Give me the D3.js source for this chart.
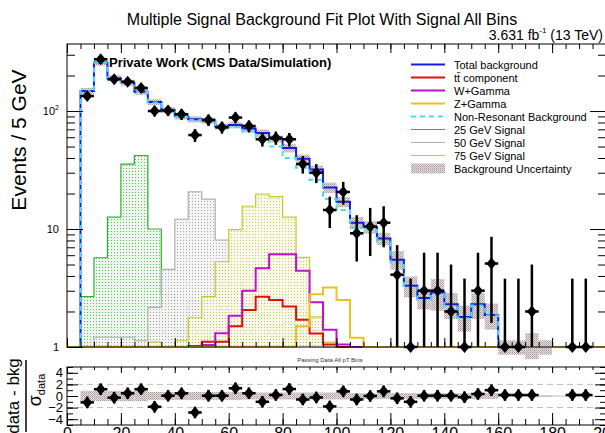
<!DOCTYPE html>
<html>
<head>
<meta charset="UTF-8">
<title>Signal Background Fit</title>
<style>
  body { margin: 0; background: #fff; }
  svg text { font-family: "Liberation Sans", Arial, Helvetica, sans-serif; }
</style>
<script src="https://d3js.org/d3.v7.min.js"></script>
</head>
<body>
<script>
// ---- datos (bins de 5 GeV, de 0 a 200) ----
var binLow = d3.range(0, 200, 5);

var dataVals = [null,134,275,186,177,157,100,101,94,62.6,84,72.8,88,74.6,57.6,59.4,57.6,35.5,30,14.5,
                20.6,9.2,10.5,11.3,4.1,0,3,3,2,0,3,5.1,0,0,2,null,null,0,0,null];
var dataErr  = [0,11.6,16.6,13.6,13.3,12.5,10,10,9.7,7.9,9.2,8.5,9.4,8.6,7.6,7.7,7.6,6,5.5,4.3,
                4.5,3.9,4.6,4.3,3.2,3.8,3.3,3.3,3,3.8,3.3,3.5,3.8,3.8,3,0,0,3.8,3.8,0];

var totalBkg = [0,148,258,190,174,146,119,102,90,85,83,74,76,71,65,58,48.5,39.5,32,22.5,
                17,11.3,10.4,8.3,5.5,3.3,2.6,2.9,2.3,1.8,2.3,1.87,1,1,1.05,1,0,0,0,0];
var bkgUncFrac = [0,0.06,0.06,0.06,0.06,0.06,0.06,0.06,0.06,0.06,0.06,0.06,0.06,0.07,0.07,0.07,0.08,0.08,0.08,0.1,
                0.1,0.12,0.12,0.12,0.18,0.2,0.2,0.3,0.25,0.25,0.25,0.25,0.14,0.14,0.25,0.14,0,0,0,0];
var nonRes   = [0,147,256,189,173,145,118,101,89,84,82,72,73,67,58,50,40,33,26,18,
                14.5,10.3,9.8,7.8,5.2,3.2,2.5,2.8,2.2,1.75,2.25,1.85,1,1,1,1,0,0,0,0];
var ttbar    = [0,0,0,0,0,0,0,0,0,1.02,1.11,1.11,1.5,2.06,2.67,2.5,2.2,1.7,1.3,1.05,
                0,0,0,0,0,0,0,0,0,0,0,0,0,0,0,0,0,0,0,0];
var wGamma   = [0,0,0,0,0,0,0,0,0,0,1.04,1.31,1.84,3.0,4.64,6.1,6.1,4.43,2.4,1.4,
                1.05,0,0,0,0,0,0,0,0,0,0,0,0,0,0,0,0,0,0,0];
var zGamma   = [0,0,0,0,0,0,0,0,0,0,0,0,0,0,0,0,0,1.5,2.8,3.2,
                2.5,1.2,0,0,0,0,0,0,0,0,0,0,0,0,0,0,0,0,0,0];
var sig25    = [0,2.67,5.71,12.6,35.5,42,10,2.8,1.39,2.45,1.42,1.97,2.03,1.67,1.9,1.5,1.6,1.3,1.1,0,
                0,0,0,0,0,0,0,0,0,0,0,0,0,0,0,0,0,0,0,0];
var sig50    = [0,0,1.21,1.21,1.21,1.13,2.17,4.55,12.1,20.7,17.9,8.07,3.46,2.3,1.8,1.5,1.4,1.2,0,0,
                0,0,0,0,0,0,0,0,0,0,0,0,0,0,0,0,0,0,0,0];
var sig75    = [0,0,0,0,0,0,1.1,0,1.13,1.77,2.67,5.28,9.9,15.6,19.8,18.8,12.6,5.75,1.8,1.1,
                0,0,0,0,0,0,0,0,0,0,0,0,0,0,0,0,0,0,0,0];

var pulls    = [null,-1.1,1.17,-0.29,0.46,1.17,-1.86,0.05,0.46,-2.84,0.05,0.05,1.33,0.48,-1.0,0.18,1.2,-0.6,-0.25,-1.8,
                0.8,-0.6,0,0.8,-0.4,-1.0,0.05,0.05,0.05,-0.2,0.35,1.0,0.17,0.17,0.17,null,null,0.17,0.17,null];
var pullBand = [0,0.9,0.9,0.9,0.9,0.9,0.7,0.7,0.7,0.7,0.7,0.7,0.7,0.6,0.6,0.6,0.6,0.6,0.6,0.6,
                0.6,0.5,0.5,0.5,0.5,0.5,0.5,0.5,0.5,0.5,0.5,0.5,0.15,0.15,0.15,0.15,0.1,0.1,0.1,0.1];

var legendItems = [
  {name: "Total background", color: "#1a1ae6", w: 2},
  {name: "t\u0074\u0304 component", color: "#e01010", w: 2},
  {name: "W+Gamma", color: "#c010d0", w: 2},
  {name: "Z+Gamma", color: "#f0c020", w: 2},
  {name: "Non-Resonant Background", color: "#40e0f0", w: 2, dash: "5,4"},
  {name: "25 GeV Signal", color: "#30b030", w: 1},
  {name: "50 GeV Signal", color: "#b0b0b0", w: 1},
  {name: "75 GeV Signal", color: "#c8c830", w: 1},
  {name: "Background Uncertainty", band: true}
];

// ---- tamaño y escalas ----
var W = 605, H = 433;
var svg = d3.select("body").append("svg").attr("width", W).attr("height", H);
var defs = svg.append("defs");

var x = d3.scaleLinear().domain([0, 200]).range([67, 606]);
var y = d3.scaleLog().domain([1, 370]).range([347, 44]);
var yr = d3.scaleLinear().domain([-5, 5]).range([425, 367]);

function yc(v) { return y(Math.max(v, 1)); }

// patrones de puntos estilo ROOT
function dotPattern(id, bg, dot, size) {
  var p = defs.append("pattern").attr("id", id).attr("patternUnits", "userSpaceOnUse")
    .attr("width", size).attr("height", size);
  p.append("rect").attr("width", size).attr("height", size).attr("fill", bg);
  p.append("rect").attr("width", 1).attr("height", 1).attr("fill", dot);
}
dotPattern("pGreen", "#eaf5ea", "#50b050", 3);
dotPattern("pGray", "#f3f3f3", "#a0a0a0", 3);
dotPattern("pOlive", "#f8f8e4", "#c0c060", 3);
var pb = defs.append("pattern").attr("id", "pBand").attr("patternUnits", "userSpaceOnUse")
  .attr("width", 2).attr("height", 2);
pb.append("rect").attr("width", 2).attr("height", 2).attr("fill", "#e6dede");
pb.append("rect").attr("width", 1).attr("height", 1).attr("fill", "#a89a9a");
pb.append("rect").attr("x", 1).attr("y", 1).attr("width", 1).attr("height", 1).attr("fill", "#bfb3b3");

// puntos de un histograma en escalones
function stepPoints(vals, i0, i1) {
  var pts = [];
  for (var i = i0; i <= i1; i++) {
    pts.push([binLow[i], vals[i]]);
    pts.push([binLow[i] + 5, vals[i]]);
  }
  return pts;
}
var line = d3.line().x(function(d) { return x(d[0]); }).y(function(d) { return yc(d[1]); });
var area = d3.area().x(function(d) { return x(d[0]); }).y0(y(1)).y1(function(d) { return yc(d[1]); });

var main = svg.append("g");

// señales
[[sig25, "pGreen", "#30b030"], [sig50, "pGray", "#b0b0b0"], [sig75, "pOlive", "#c8c830"]].forEach(function(s) {
  var pts = stepPoints(s[0], 0, 39);
  main.append("path").attr("d", area(pts)).attr("fill", "url(#" + s[1] + ")").attr("fill-opacity", 0.9);
  main.append("path").attr("d", line(pts)).attr("fill", "none").attr("stroke", s[2]).attr("stroke-width", 1.2);
});

// componentes
[[ttbar, "#e01010"], [wGamma, "#c010d0"], [zGamma, "#f0c020"]].forEach(function(s) {
  main.append("path").attr("d", line(stepPoints(s[0], 0, 39))).attr("fill", "none")
    .attr("stroke", s[1]).attr("stroke-width", 2);
});

// banda de incertidumbre
for (var i = 1; i < 40; i++) {
  if (!totalBkg[i]) continue;
  var lo = totalBkg[i] * (1 - bkgUncFrac[i]), hi = totalBkg[i] * (1 + bkgUncFrac[i]);
  main.append("rect").attr("x", x(binLow[i])).attr("width", x(binLow[i] + 5) - x(binLow[i]))
    .attr("y", y(hi)).attr("height", y(lo) - y(hi)).attr("fill", "url(#pBand)");
}

// fondo total y no resonante
var totPts = [[5, 1]].concat(stepPoints(totalBkg, 1, 31)).concat([[160, 1]]);
main.append("path").attr("d", line(totPts)).attr("fill", "none").attr("stroke", "#1a1ae6").attr("stroke-width", 2);
var nrPts = [[5, 1]].concat(stepPoints(nonRes, 1, 31)).concat([[160, 1]]);
main.append("path").attr("d", line(nrPts)).attr("fill", "none").attr("stroke", "#40e0f0")
  .attr("stroke-width", 2).attr("stroke-dasharray", "5,4");

// datos
function marker(g, cx, cy, r) {
  g.append("path").attr("d", "M" + cx + "," + (cy - r - 1) + "L" + (cx + r) + "," + cy + "L" + cx + "," + (cy + r + 1) +
    "L" + (cx - r) + "," + cy + "Z").attr("fill", "#000");
}
var dataG = svg.append("g");
for (var i = 0; i < 40; i++) {
  var v = dataVals[i];
  if (v === null) continue;
  var cx = x(binLow[i] + 2.5), cy = yc(v);
  var yTop = y(v + dataErr[i]);
  var yBot = (v - dataErr[i]) > 1 ? y(v - dataErr[i]) : y(1);
  dataG.append("line").attr("x1", cx).attr("x2", cx).attr("y1", yTop).attr("y2", yBot)
    .attr("stroke", "#000").attr("stroke-width", 2.5);
  dataG.append("line").attr("x1", x(binLow[i])).attr("x2", x(binLow[i] + 5)).attr("y1", cy).attr("y2", cy)
    .attr("stroke", "#000").attr("stroke-width", 2.5);
  marker(dataG, cx, cy, 5);
}

// ejes del panel principal (marcas hacia dentro)
function ticks(axis, tx, ty, vals, size) {
  var g = svg.append("g").attr("transform", "translate(" + tx + "," + ty + ")")
    .call(axis.tickValues(vals).tickSize(size).tickFormat(""));
  g.select(".domain").remove();
  g.selectAll("line").attr("stroke", "#000");
  return g;
}
var majX = d3.range(0, 201, 20), minX = d3.range(0, 201, 5);
ticks(d3.axisBottom(x), 0, 347, majX, -9);
ticks(d3.axisBottom(x), 0, 347, minX, -5);
ticks(d3.axisTop(x), 0, 44, majX, -9);
ticks(d3.axisTop(x), 0, 44, minX, -5);
var minY = [2,3,4,5,6,7,8,9,20,30,40,50,60,70,80,90,200,300];
ticks(d3.axisLeft(y), 67, 0, [1, 10, 100], -16);
ticks(d3.axisLeft(y), 67, 0, minY, -8);
ticks(d3.axisRight(y), 606, 0, [10, 100], -16);
ticks(d3.axisRight(y), 606, 0, minY, -8);

var yl = svg.append("g").attr("font-size", 11).attr("text-anchor", "end");
yl.append("text").attr("x", 59).attr("y", y(1) + 4).text("1");
yl.append("text").attr("x", 59).attr("y", y(10) + 4).text("10");
var t2 = yl.append("text").attr("x", 59).attr("y", y(100) + 4);
t2.append("tspan").text("10");
t2.append("tspan").attr("dy", -5).attr("font-size", 7).text("2");

svg.append("rect").attr("x", 67).attr("y", 44).attr("width", 539).attr("height", 303)
  .attr("fill", "none").attr("stroke", "#000");

// leyenda
var leg = svg.append("g");
legendItems.forEach(function(d, k) {
  var ly = 64.5 + k * 13;
  if (d.band) {
    leg.append("rect").attr("x", 411).attr("y", ly - 5).attr("width", 34).attr("height", 10).attr("fill", "url(#pBand)");
  } else {
    leg.append("line").attr("x1", 411).attr("x2", 445).attr("y1", ly).attr("y2", ly)
      .attr("stroke", d.color).attr("stroke-width", d.w).attr("stroke-dasharray", d.dash || null);
  }
  leg.append("text").attr("x", 454).attr("y", ly + 4).attr("font-size", 11).text(d.name);
});

svg.append("text").attr("x", 109).attr("y", 67).attr("font-size", 13).attr("font-weight", "bold")
  .text("Private Work (CMS Data/Simulation)");

// títulos
svg.append("text").attr("x", 322).attr("y", 24.5).attr("text-anchor", "middle").attr("font-size", 16)
  .text("Multiple Signal Background Fit Plot With Signal All Bins");
var lumi = svg.append("text").attr("x", 603).attr("y", 40).attr("text-anchor", "end").attr("font-size", 14);
lumi.append("tspan").text("3.631 fb");
lumi.append("tspan").attr("dy", -7).attr("font-size", 8).text("-1");
lumi.append("tspan").attr("dy", 7).text(" (13 TeV)");

svg.append("text").attr("transform", "translate(26,140) rotate(-90)").attr("text-anchor", "middle")
  .attr("font-size", 21).text("Events / 5 GeV");

// ---- panel de pulls ----
var rp = svg.append("g");
[-2, 2].forEach(function(v) {
  rp.append("line").attr("x1", 67).attr("x2", 606).attr("y1", yr(v)).attr("y2", yr(v))
    .attr("stroke", "#bbb").attr("stroke-dasharray", "6,4");
});
for (var i = 1; i < 40; i++) {
  rp.append("rect").attr("x", x(binLow[i])).attr("width", x(binLow[i] + 5) - x(binLow[i]))
    .attr("y", yr(pullBand[i])).attr("height", yr(-pullBand[i]) - yr(pullBand[i])).attr("fill", "url(#pBand)");
}
for (var i = 0; i < 40; i++) {
  var p = pulls[i];
  if (p === null) continue;
  var cx = x(binLow[i] + 2.5), cy = yr(p);
  rp.append("line").attr("x1", cx).attr("x2", cx).attr("y1", yr(p + 1)).attr("y2", yr(p - 1))
    .attr("stroke", "#000").attr("stroke-width", 2.5);
  rp.append("line").attr("x1", x(binLow[i])).attr("x2", x(binLow[i] + 5)).attr("y1", cy).attr("y2", cy)
    .attr("stroke", "#000").attr("stroke-width", 2.5);
  marker(rp, cx, cy, 5);
}

ticks(d3.axisTop(x), 0, 367, majX, -6);
ticks(d3.axisTop(x), 0, 367, minX, -3);
ticks(d3.axisBottom(x), 0, 425, minX, -6);
var bx = svg.append("g").attr("transform", "translate(0,425)")
  .call(d3.axisBottom(x).tickValues(majX).tickSize(-12).tickPadding(3));
bx.select(".domain").remove();
bx.selectAll("line").attr("stroke", "#000");
bx.selectAll("text").attr("font-size", 16).attr("font-family", "Liberation Sans, Arial, sans-serif");

var majR = [-4, -2, 0, 2, 4], minR = d3.range(-5, 6, 1);
var ly2 = svg.append("g").attr("transform", "translate(67,0)")
  .call(d3.axisLeft(yr).tickValues(majR).tickSize(-11).tickPadding(4));
ly2.select(".domain").remove();
ly2.selectAll("line").attr("stroke", "#000");
ly2.selectAll("text").attr("font-size", 13).attr("font-family", "Liberation Sans, Arial, sans-serif");
ticks(d3.axisLeft(yr), 67, 0, minR, -6);
ticks(d3.axisRight(yr), 606, 0, majR, -11);
ticks(d3.axisRight(yr), 606, 0, minR, -6);

svg.append("rect").attr("x", 67).attr("y", 367).attr("width", 539).attr("height", 58)
  .attr("fill", "none").attr("stroke", "#000");

svg.append("text").attr("x", 330).attr("y", 362).attr("text-anchor", "middle").attr("font-size", 6)
  .attr("fill", "#333").text("Passing Data All pT Bins");

// etiqueta del eje y del panel inferior
var rl = svg.append("g").attr("transform", "translate(0,396) rotate(-90)");
rl.append("text").attr("x", 0).attr("y", 19).attr("text-anchor", "middle").attr("font-size", 17).text("data - bkg");
rl.append("line").attr("x1", -36).attr("x2", 36).attr("y1", 26).attr("y2", 26).attr("stroke", "#000").attr("stroke-width", 1.5);
var sg = rl.append("text").attr("x", 6).attr("y", 41).attr("text-anchor", "middle").attr("font-size", 18);
sg.append("tspan").text("\u03c3");
sg.append("tspan").attr("dy", 4).attr("font-size", 11).text("data");
</script>
</body>
</html>
